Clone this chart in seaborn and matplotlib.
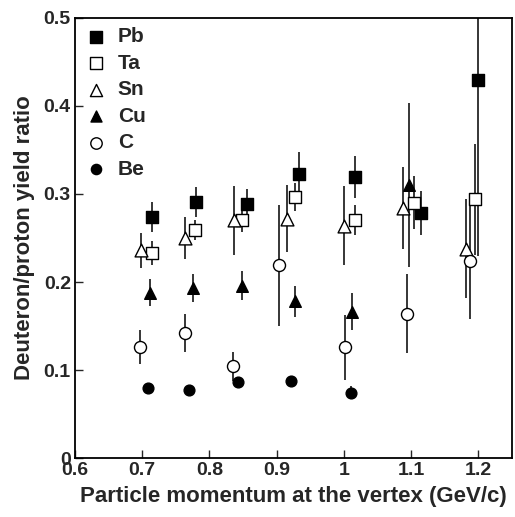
import numpy as np
import pandas as pd
import matplotlib
matplotlib.use("Agg")
import matplotlib.pyplot as plt
import seaborn as sns
from matplotlib.ticker import FuncFormatter, MultipleLocator

sns.set_style("ticks")
plt.rcParams["font.family"] = ["Liberation Sans", "DejaVu Sans"]
plt.rcParams["font.weight"] = "bold"

# Deuteron/proton ratios (momentum, ratio, error)
targets = ["Pb", "Ta", "Sn", "Cu", "C", "Be"]

pb_p = [0.715, 0.780, 0.856, 0.934, 1.016, 1.115, 1.200]
pb_r = [0.274, 0.291, 0.289, 0.323, 0.319, 0.278, 0.430]
pb_e = [0.017, 0.017, 0.017, 0.025, 0.024, 0.025, 0.200]

ta_p = [0.714, 0.778, 0.848, 0.928, 1.016, 1.105, 1.195]
ta_r = [0.233, 0.259, 0.270, 0.297, 0.270, 0.290, 0.294]
ta_e = [0.014, 0.011, 0.013, 0.016, 0.017, 0.030, 0.063]

sn_p = [0.698, 0.763, 0.836, 0.916, 1.000, 1.088, 1.181]
sn_r = [0.236, 0.250, 0.270, 0.272, 0.264, 0.284, 0.238]
sn_e = [0.020, 0.024, 0.039, 0.038, 0.045, 0.047, 0.056]

cu_p = [0.711, 0.775, 0.848, 0.927, 1.012, 1.097]
cu_r = [0.188, 0.193, 0.196, 0.178, 0.166, 0.310]
cu_e = [0.015, 0.016, 0.016, 0.018, 0.021, 0.093]

c_p = [0.697, 0.763, 0.835, 0.903, 1.001, 1.094, 1.187]
c_r = [0.126, 0.142, 0.104, 0.219, 0.126, 0.164, 0.224]
c_e = [0.019, 0.022, 0.016, 0.069, 0.037, 0.045, 0.066]

be_p = [0.709, 0.770, 0.842, 0.921, 1.011]
be_r = [0.079, 0.077, 0.086, 0.088, 0.074]
be_e = [0.005, 0.0045, 0.0055, 0.005, 0.0075]

series = {
    "Pb": (pb_p, pb_r, pb_e),
    "Ta": (ta_p, ta_r, ta_e),
    "Sn": (sn_p, sn_r, sn_e),
    "Cu": (cu_p, cu_r, cu_e),
    "C": (c_p, c_r, c_e),
    "Be": (be_p, be_r, be_e),
}

# marker shape, filled or not, size
styles = {
    "Pb": ("s", True, 75),
    "Ta": ("s", False, 75),
    "Sn": ("^", False, 85),
    "Cu": ("^", True, 70),
    "C": ("o", False, 75),
    "Be": ("o", True, 60),
}

frames = []
for t in targets:
    p, r, e = series[t]
    frames.append(pd.DataFrame({"target": t, "p": p, "ratio": r, "err": e}))
data = pd.concat(frames, ignore_index=True)

fig = plt.figure(figsize=(5.15, 5.17), dpi=100)
ax = fig.add_axes([0.1456, 0.1141, 0.8484, 0.8511])

for t in targets:
    d = data[data["target"] == t]
    ax.errorbar(d["p"], d["ratio"], yerr=d["err"], fmt="none",
                ecolor="black", elinewidth=1.1, capsize=0, zorder=2)
    m, filled, s = styles[t]
    sns.scatterplot(data=d, x="p", y="ratio", ax=ax, marker=m, s=s,
                    color="black" if filled else "white",
                    edgecolor="black", linewidth=1.0, zorder=3,
                    label=t, legend=False)

# legend built from the same styles
handles = []
for t in targets:
    m, filled, s = styles[t]
    h = ax.scatter([], [], marker=m, s=s * 0.9,
                   c="black" if filled else "white", edgecolors="black",
                   linewidths=1.0, label=t)
    handles.append(h)
ax.legend(handles=handles, loc="upper left", frameon=False,
          prop={"size": 15, "weight": "bold"}, handletextpad=0.5,
          labelspacing=0.36, borderaxespad=0.15, borderpad=0.3,
          handlelength=1.1)

ax.set_xlim(0.6, 1.25)
ax.set_ylim(0, 0.5)
ax.xaxis.set_major_locator(MultipleLocator(0.1))
ax.yaxis.set_major_locator(MultipleLocator(0.1))
fmt = FuncFormatter(lambda v, pos: f"{v:.10g}" if abs(v) > 1e-9 else "0")
ax.xaxis.set_major_formatter(fmt)
ax.yaxis.set_major_formatter(fmt)
ax.tick_params(direction="in", length=5.5, width=1.0, labelsize=14,
               top=False, right=False, pad=3)
for lab in ax.get_xticklabels() + ax.get_yticklabels():
    lab.set_fontweight("bold")
for sp in ax.spines.values():
    sp.set_linewidth(1.3)
    sp.set_color("black")

ax.set_xlabel("Particle momentum at the vertex (GeV/c)", fontsize=16,
              fontweight="bold", labelpad=5)
ax.set_ylabel("Deuteron/proton yield ratio", fontsize=16,
              fontweight="bold", labelpad=6)

fig.savefig("out.png", dpi=100)
